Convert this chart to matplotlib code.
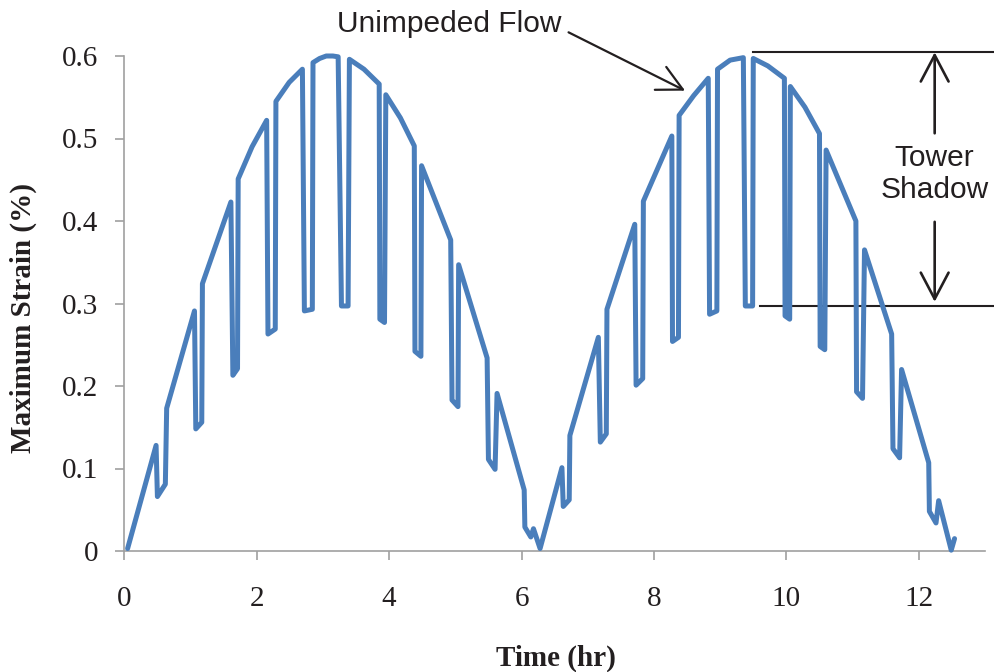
import matplotlib
matplotlib.use('Agg')
import matplotlib.pyplot as plt

# ---- data ----
time_hr = [0.05, 0.48, 0.50, 0.62, 0.64, 1.06, 1.08, 1.17, 1.18, 1.61, 1.64, 1.71, 1.72,
           1.93, 2.15, 2.17, 2.28, 2.29, 2.49, 2.69, 2.72, 2.84, 2.85, 2.95, 3.05, 3.15, 3.23,
           3.28, 3.38, 3.40, 3.62, 3.85, 3.86, 3.93, 3.95, 4.17, 4.38, 4.39, 4.48, 4.49,
           4.93, 4.95, 5.04, 5.05, 5.48, 5.50, 5.60, 5.63, 6.04, 6.05, 6.14, 6.18, 6.28,
           6.61, 6.63, 6.72, 6.73, 7.16, 7.19, 7.28, 7.29, 7.71, 7.73, 7.83, 7.84, 8.27,
           8.28, 8.37, 8.38, 8.60, 8.82, 8.84, 8.95, 8.96, 9.15, 9.35, 9.38, 9.49, 9.50,
           9.72, 9.97, 9.98, 10.05, 10.06, 10.28, 10.50, 10.51, 10.58, 10.60, 11.05, 11.06,
           11.15, 11.18, 11.59, 11.61, 11.71, 11.74, 12.15, 12.16, 12.26, 12.30, 12.49, 12.54]
strain_pct = [0.003, 0.128, 0.066, 0.081, 0.173, 0.291, 0.148, 0.156, 0.324, 0.423, 0.213, 0.221, 0.451,
              0.490, 0.522, 0.263, 0.269, 0.545, 0.568, 0.584, 0.291, 0.293, 0.592, 0.597, 0.600, 0.600, 0.599,
              0.297, 0.297, 0.596, 0.584, 0.566, 0.281, 0.277, 0.553, 0.525, 0.491, 0.242, 0.236, 0.467,
              0.377, 0.183, 0.175, 0.347, 0.234, 0.111, 0.099, 0.191, 0.074, 0.029, 0.017, 0.027, 0.003,
              0.101, 0.054, 0.062, 0.140, 0.259, 0.132, 0.142, 0.293, 0.396, 0.201, 0.209, 0.424, 0.503,
              0.254, 0.259, 0.528, 0.552, 0.573, 0.287, 0.291, 0.584, 0.595, 0.598, 0.297, 0.297, 0.597,
              0.588, 0.573, 0.285, 0.281, 0.563, 0.538, 0.506, 0.248, 0.244, 0.486, 0.400, 0.193,
              0.185, 0.365, 0.263, 0.124, 0.113, 0.220, 0.107, 0.048, 0.034, 0.061, 0.001, 0.015]

x_ticks = [0, 2, 4, 6, 8, 10, 12]
x_tick_labels = ['0', '2', '4', '6', '8', '10', '12']
y_ticks = [0, 0.1, 0.2, 0.3, 0.4, 0.5, 0.6]
y_tick_labels = ['0', '0.1', '0.2', '0.3', '0.4', '0.5', '0.6']

x_label = 'Time (hr)'
y_label = 'Maximum Strain (%)'
flow_label = 'Unimpeded Flow'
shadow_label = 'Tower\nShadow'

# ---- style ----
plt.rcParams['font.family'] = ['Liberation Serif', 'DejaVu Serif']
TXT = '#231F20'
GRAY = '#A0A0A0'
BLUE = '#4A7EBB'

W, H = 995, 672
fig = plt.figure(figsize=(W / 100, H / 100), dpi=100)
ax = fig.add_axes([124.3 / W, (H - 551) / H, (985 - 124.3) / W, 495 / H])

ax.plot(time_hr, strain_pct, color=BLUE, lw=3.6, solid_joinstyle='round',
        solid_capstyle='round', clip_on=False, zorder=3)

ax.set_xlim(0, 13)
ax.set_ylim(0, 0.6)
ax.set_xticks(x_ticks)
ax.set_xticklabels(x_tick_labels)
ax.set_yticks(y_ticks)
ax.set_yticklabels(y_tick_labels)

for s in ['top', 'right']:
    ax.spines[s].set_visible(False)
for s in ['left', 'bottom']:
    ax.spines[s].set_color(GRAY)
    ax.spines[s].set_linewidth(1.2)

ax.tick_params(axis='both', direction='out', length=6.5, width=1.2, color=GRAY,
               labelsize=21, labelcolor=TXT)
ax.tick_params(axis='x', pad=19)
ax.tick_params(axis='y', pad=12)

fig.text(23 / W, 1 - 318 / H, y_label, rotation=90, ha='center', va='center',
         fontsize=21, fontweight='bold', color=TXT)
fig.text(556 / W, 1 - 666 / H, x_label, ha='center', va='baseline',
         fontsize=21, fontweight='bold', color=TXT)

# ---- annotations ----
sans = ['Liberation Sans', 'DejaVu Sans']
ax.text(4.91, 0.6388, flow_label, ha='center', va='center', fontsize=21.5,
        family=sans, color=TXT, clip_on=False)
ax.annotate('', xy=(8.47, 0.558), xytext=(6.71, 0.6287), annotation_clip=False,
            arrowprops=dict(arrowstyle='->,head_length=0.9,head_width=0.46',
                            lw=1.6, color=TXT, shrinkA=0, shrinkB=0, mutation_scale=20))

ax.plot([9.49, 13.14], [0.6045, 0.6045], color=TXT, lw=1.5, clip_on=False)
ax.plot([9.60, 13.14], [0.297, 0.297], color=TXT, lw=1.5, clip_on=False)

ax.annotate('', xy=(12.24, 0.6045), xytext=(12.24, 0.5063), annotation_clip=False,
            arrowprops=dict(arrowstyle='->,head_length=0.95,head_width=0.5',
                            lw=1.9, color=TXT, shrinkA=0, shrinkB=0, mutation_scale=20))
ax.annotate('', xy=(12.24, 0.302), xytext=(12.24, 0.399), annotation_clip=False,
            arrowprops=dict(arrowstyle='->,head_length=0.95,head_width=0.5',
                            lw=1.9, color=TXT, shrinkA=0, shrinkB=0, mutation_scale=20))
ax.text(12.24, 0.457, shadow_label, ha='center', va='center', fontsize=21.5,
        family=sans, color=TXT, multialignment='center', linespacing=1.2, clip_on=False)

fig.savefig('out.png', dpi=100)
